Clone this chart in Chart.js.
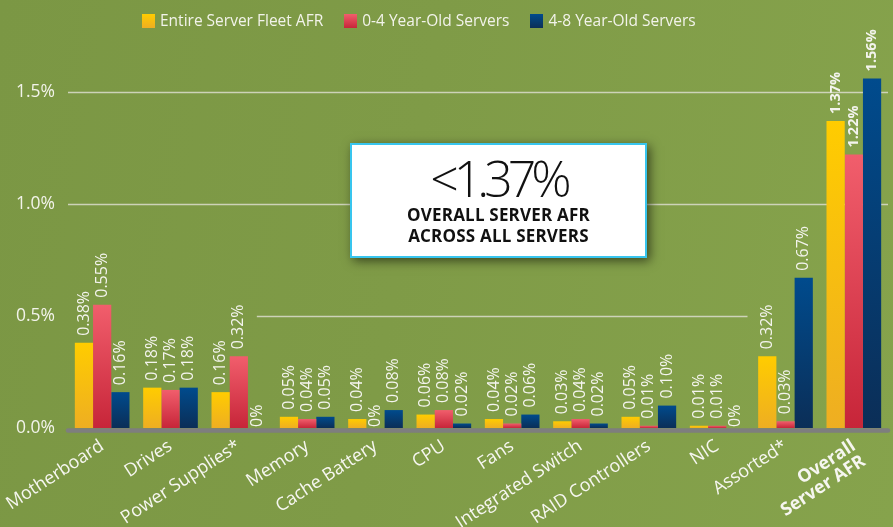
<!DOCTYPE html>
<html><head><meta charset="utf-8">
<script src="https://cdn.jsdelivr.net/npm/chart.js@4/dist/chart.umd.min.js"></script>
<style>
html,body{margin:0;padding:0;}
body{width:893px;height:527px;overflow:hidden;position:relative;
  background:linear-gradient(100deg,#7b9744 0%,#7f9b47 45%,#86a34c 100%);
  font-family:"Open Sans",sans-serif;}
#wrap{position:absolute;left:0;top:0;width:893px;height:527px;}
#legend{position:absolute;left:142px;top:10px;display:flex;align-items:center;color:#f2f3ea;font-size:15.5px;line-height:21px;}
#legend .item{display:flex;align-items:center;margin-right:21px;}
#legend .sw{width:13px;height:14px;margin-right:5px;}
#callout{position:absolute;left:350px;top:143px;width:293px;height:111px;background:#fff;border:2px solid #38c5ee;
  box-shadow:3px 3px 10px rgba(0,0,0,0.55);text-align:center;color:#111;}
#callout .big{font-size:50px;font-weight:300;line-height:50px;letter-spacing:-5px;margin-top:8px;}
#callout .sub{font-size:17px;font-weight:700;line-height:20.5px;letter-spacing:0.2px;margin-top:2px;}
</style></head>
<body>
<div id="wrap"><canvas id="c" width="893" height="527"></canvas></div>
<div id="legend"></div>
<div id="callout"><div class="big" id="bigv"></div><div class="sub" id="subv"></div></div>
<script>
const categories = ['Motherboard','Drives','Power Supplies*','Memory','Cache Battery','CPU','Fans','Integrated Switch','RAID Controllers','NIC','Assorted*',['Overall','Server AFR']];
const seriesNames = ['Entire Server Fleet AFR','0-4 Year-Old Servers','4-8 Year-Old Servers'];
const fleetAFR = [0.38,0.18,0.16,0.05,0.04,0.06,0.04,0.03,0.05,0.01,0.32,1.37];
const young    = [0.55,0.17,0.32,0.04,0.00,0.08,0.02,0.04,0.01,0.01,0.03,1.22];
const old      = [0.16,0.18,0.00,0.05,0.08,0.02,0.06,0.02,0.10,0.00,0.67,1.56];
const yTicks = [0,0.5,1.0,1.5];
const calloutValue = '<1.37%';
const calloutText = ['OVERALL SERVER AFR','ACROSS ALL SERVERS'];

const palette = [['#FFCC00','#EEAE22'],['#F15E6C','#C72539'],['#004B8D','#0B2E57']];
const seriesData = [fleetAFR, young, old];

document.getElementById('bigv').textContent = calloutValue;
document.getElementById('subv').innerHTML = calloutText.join('<br>');
const lg = document.getElementById('legend');
seriesNames.forEach((n,i)=>{
  const it=document.createElement('div');it.className='item';
  const sw=document.createElement('div');sw.className='sw';
  sw.style.background='linear-gradient('+palette[i][0]+','+palette[i][1]+')';
  const t=document.createElement('span');t.textContent=n;
  it.appendChild(sw);it.appendChild(t);lg.appendChild(it);
});

function grad(top,bottom){
  return (ctx)=>{
    const chart=ctx.chart;const a=chart.chartArea;
    if(!a||ctx.type!=='data')return top;
    const y=chart.scales.y;
    const y0=y.getPixelForValue(0);let y1=y.getPixelForValue(ctx.raw);
    if(y0-y1<1)y1=y0-1;
    const g=chart.ctx.createLinearGradient(0,y1,0,y0);
    g.addColorStop(0,top);g.addColorStop(1,bottom);return g;
  };
}

const fmt=v=>v===0?'0%':v.toFixed(2)+'%';

const gridPlugin={id:'gridCustom',
  beforeDatasetsDraw(chart){
    const {ctx,chartArea:a,scales:{x,y}}=chart;
    ctx.save();ctx.strokeStyle='rgba(218,220,205,0.85)';ctx.lineWidth=1.5;
    yTicks.forEach(t=>{
      if(t===0)return;
      let x0=a.left,x1=a.right;
      if(t===0.5){x0=x.getPixelForValue(2)+18;x1=x.getPixelForValue(10)-38;}
      const py=Math.round(y.getPixelForValue(t))+0.5;
      ctx.beginPath();ctx.moveTo(x0,py);ctx.lineTo(x1,py);ctx.stroke();
    });
    ctx.restore();
  },
  afterDatasetsDraw(chart){
    const {ctx,chartArea:a,scales:{y}}=chart;
    const y0=y.getPixelForValue(0);
    ctx.save();ctx.strokeStyle='#7e7e7e';ctx.lineWidth=4.5;ctx.lineCap='round';
    ctx.beginPath();ctx.moveTo(a.left,y0+2.5);ctx.lineTo(a.right,y0+2.5);ctx.stroke();
    ctx.fillStyle='#f4f4ee';ctx.textAlign='left';ctx.textBaseline='middle';
    chart.data.datasets.forEach((ds,i)=>{
      const meta=chart.getDatasetMeta(i);
      meta.data.forEach((bar,j)=>{
        const v=ds.data[j];
        const last=j===categories.length-1;
        ctx.font=(last?'bold 14.5px':'16px')+' "Open Sans"';
        ctx.save();
        ctx.translate(bar.x,bar.y-(v===0?1:7));
        ctx.rotate(-Math.PI/2);
        ctx.fillText(fmt(v),0,0);
        ctx.restore();
      });
    });
    ctx.restore();
  }
};

new Chart(document.getElementById('c'),{
  type:'bar',
  data:{labels:categories,datasets:seriesNames.map((n,i)=>({
    label:n,data:seriesData[i],backgroundColor:grad(palette[i][0],palette[i][1]),
    borderWidth:0,categoryPercentage:0.8,barPercentage:1.0}))},
  options:{
    responsive:false,animation:false,
    layout:{padding:{top:47,right:5,left:0,bottom:0}},
    plugins:{legend:{display:false},tooltip:{enabled:false}},
    scales:{
      x:{grid:{display:false,drawTicks:false},border:{display:false},
        ticks:{color:'#f6f6f0',maxRotation:33,minRotation:33,autoSkip:false,padding:9,
          font:(c)=>({family:'"Open Sans"',size:18,weight:(c.index===categories.length-1)?'bold':'normal',lineHeight:1.0})},
        afterFit:(s)=>{s.height=99;s.paddingLeft=0;s.paddingRight=0;}},
      y:{min:0,max:1.7,grid:{display:false,drawTicks:false},border:{display:false},
        afterBuildTicks:(s)=>{s.ticks=yTicks.map(v=>({value:v}));},
        ticks:{color:'#f2f3ea',padding:13,font:{family:'"Open Sans"',size:17.5},callback:(v)=>v.toFixed(1)+'%'},
        afterFit:(s)=>{s.width=68;s.paddingTop=0;s.paddingBottom=0;}}
    }
  },
  plugins:[gridPlugin]
});
</script>
</body></html>
